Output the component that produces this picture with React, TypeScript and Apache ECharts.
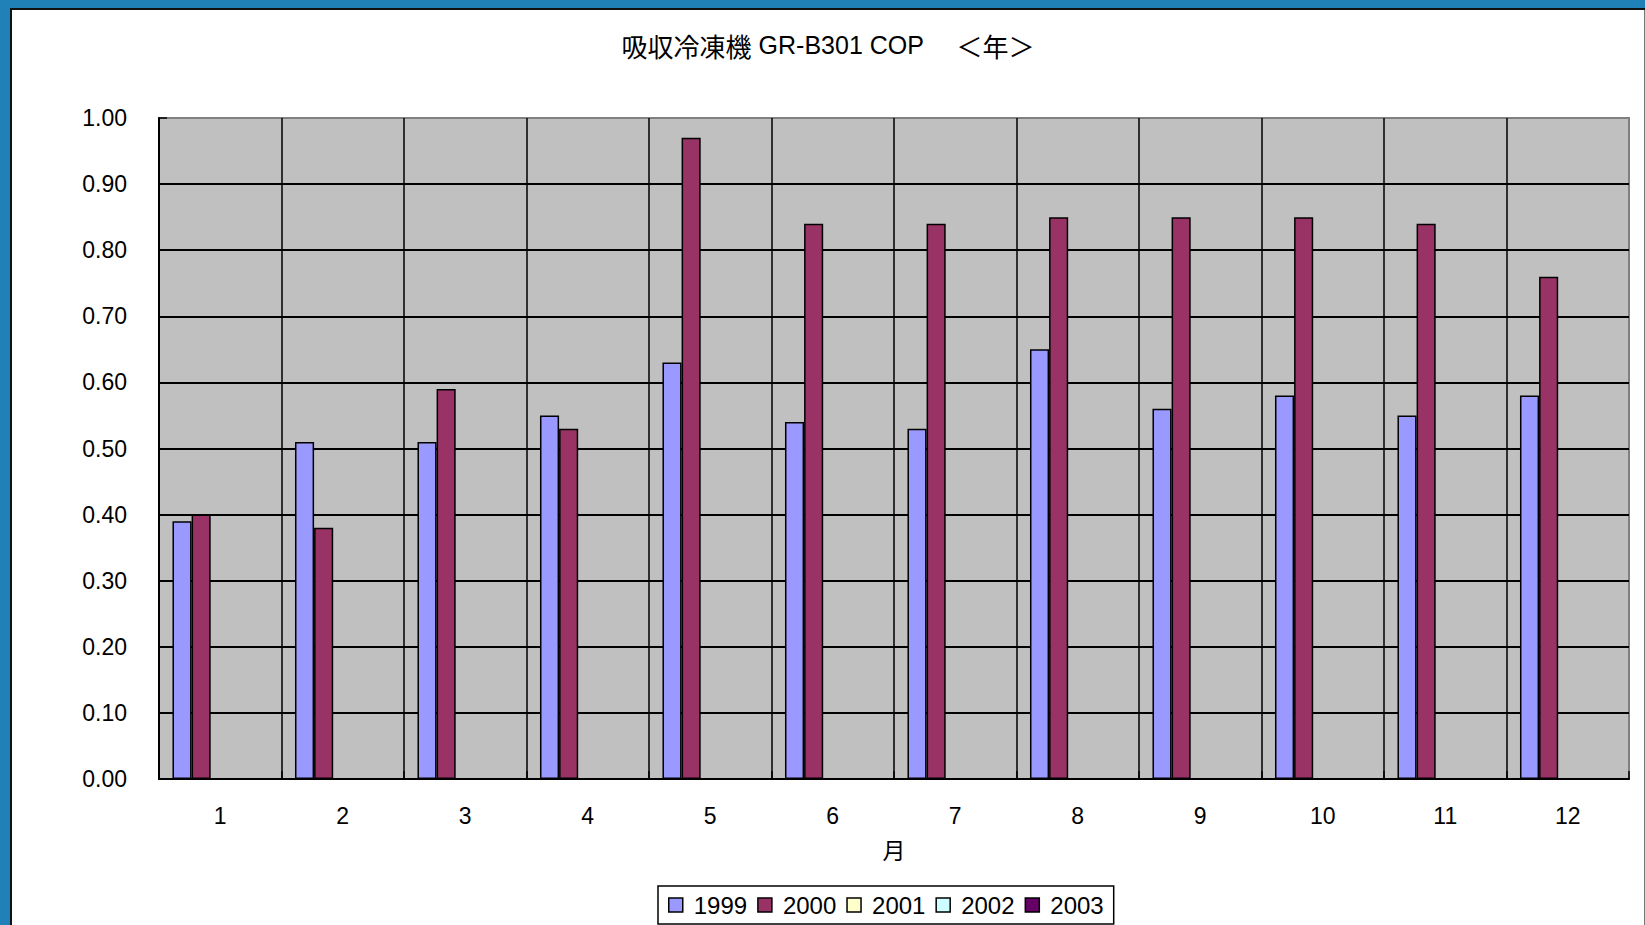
import React, { useEffect, useRef } from "react";
import * as echarts from "echarts";

const titleJa = "吸収冷凍機";
const titleModel = " GR-B301 COP ";
const titlePeriod = "　＜年＞";
const months = ["1", "2", "3", "4", "5", "6", "7", "8", "9", "10", "11", "12"];
const seriesNames = ["1999", "2000", "2001", "2002", "2003"];
const seriesColors = ["#9999FF", "#993366", "#FFFFCC", "#CCFFFF", "#660066"];
const cop1999 = [0.39, 0.51, 0.51, 0.55, 0.63, 0.54, 0.53, 0.65, 0.56, 0.58, 0.55, 0.58];
const cop2000 = [0.40, 0.38, 0.59, 0.53, 0.97, 0.84, 0.84, 0.85, 0.85, 0.85, 0.84, 0.76];
const cop2001: (number | null)[] = [];
const cop2002: (number | null)[] = [];
const cop2003: (number | null)[] = [];
const seriesData = [cop1999, cop2000, cop2001, cop2002, cop2003];

const FONT = "'Liberation Sans', Arial, 'Noto Sans CJK JP', sans-serif";

export default function App() {
  const ref = useRef<HTMLDivElement>(null);
  useEffect(() => {
    if (!ref.current) return;
    const chart = echarts.init(ref.current, null, { renderer: "svg" });
    chart.setOption({
      animation: false,
      backgroundColor: "#ffffff",
      textStyle: { fontFamily: FONT, color: "#000" },
      title: {
        text: `{c|${titleJa}}{l|${titleModel}}{c|${titlePeriod}}`,
        left: "center",
        top: 17,
        textStyle: {
          fontFamily: FONT,
          fontSize: 25,
          fontWeight: "normal",
          color: "#000",
          rich: {
            c: { fontFamily: "'Noto Sans CJK JP', sans-serif", fontSize: 26, color: "#000", verticalAlign: "middle" },
            l: { fontFamily: FONT, fontSize: 25, color: "#000", verticalAlign: "middle" },
          },
        },
      },
      legend: {
        data: seriesNames,
        left: 646,
        top: 876,
        padding: [7, 10, 7, 10],
        borderColor: "#000",
        borderWidth: 1.5,
        itemWidth: 14,
        itemHeight: 14,
        itemGap: 10,
        icon: "rect",
        itemStyle: { borderColor: "#000", borderWidth: 1.5 },
        textStyle: { fontFamily: FONT, fontSize: 24, color: "#000", padding: [0, 0, 0, 6] },
      },
      grid: {
        left: 147,
        top: 108,
        right: 15,
        bottom: 146,
        show: true,
        backgroundColor: "#c0c0c0",
        borderColor: "#808080",
        borderWidth: 2,
      },
      xAxis: {
        type: "category",
        data: months,
        name: "月",
        nameLocation: "middle",
        nameGap: 60,
        nameTextStyle: { fontFamily: FONT, fontSize: 23, color: "#000" },
        axisLine: { show: true, lineStyle: { color: "#000", width: 2 } },
        axisTick: { show: true, inside: true, length: 8, lineStyle: { color: "#000", width: 1.5 } },
        axisLabel: { margin: 25, fontFamily: FONT, fontSize: 23, color: "#000" },
        splitLine: { show: true, showMaxLine: false, lineStyle: { color: "#000", width: 1.5 } },
      },
      yAxis: {
        type: "value",
        min: 0,
        max: 1,
        interval: 0.1,
        axisLine: { show: true, lineStyle: { color: "#000", width: 2 } },
        axisTick: { show: true, inside: true, length: 8, lineStyle: { color: "#000", width: 1.5 } },
        axisLabel: {
          margin: 32,
          fontFamily: FONT,
          fontSize: 23,
          color: "#000",
          formatter: (v: number) => v.toFixed(2),
        },
        splitLine: { show: true, showMaxLine: false, lineStyle: { color: "#000", width: 2 } },
      },
      series: seriesNames.map((name, i) => ({
        name,
        type: "bar",
        data: seriesData[i],
        barGap: "0%",
        barCategoryGap: "22%",
        itemStyle: { color: seriesColors[i], borderColor: "#000", borderWidth: 1.5 },
      })),
    });
    return () => chart.dispose();
  }, []);

  return (
    <div style={{ position: "absolute", left: 0, top: 0, width: 1645, height: 925, background: "#2080B8", overflow: "hidden" }}>
      <div style={{ position: "absolute", left: 10, top: 8, width: 1635, height: 917, background: "#111" }} />
      <div ref={ref} style={{ position: "absolute", left: 12, top: 10, width: 1632, height: 915 }} />
      <div style={{ position: "absolute", left: 1644, top: 10, width: 1, height: 915, background: "#777" }} />
    </div>
  );
}
